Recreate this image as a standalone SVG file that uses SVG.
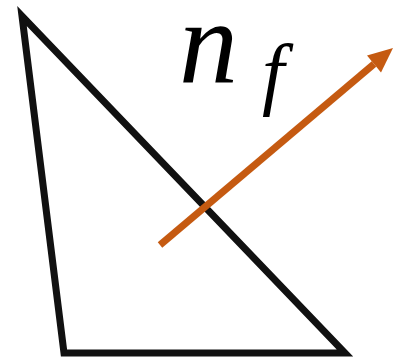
<svg xmlns="http://www.w3.org/2000/svg" width="393" height="359" viewBox="0 0 393 359">
<style>
.tri{fill:none;stroke:#111;stroke-width:7;stroke-linejoin:miter;stroke-miterlimit:10}
.vec{stroke:#c55a11;stroke-width:7;fill:none}
.lbl{font-family:'Liberation Serif',serif;font-style:italic;fill:#000}
</style>
<rect width="393" height="359" fill="#fff"/>
<g id="triangle">
<polygon class="tri" points="22,16 64,353 345,353"/>
</g>
<g id="label">
<text class="lbl" x="179" y="82" font-size="118">n</text>
<text class="lbl" x="262" y="100" font-size="80">f</text>
</g>
<g id="connectors">
<line class="vec" x1="160" y1="245" x2="374" y2="64"/>
<path d="M393,48 L381,72.5 L367,55.5 z" fill="#c55a11"/>
</g>
</svg>
